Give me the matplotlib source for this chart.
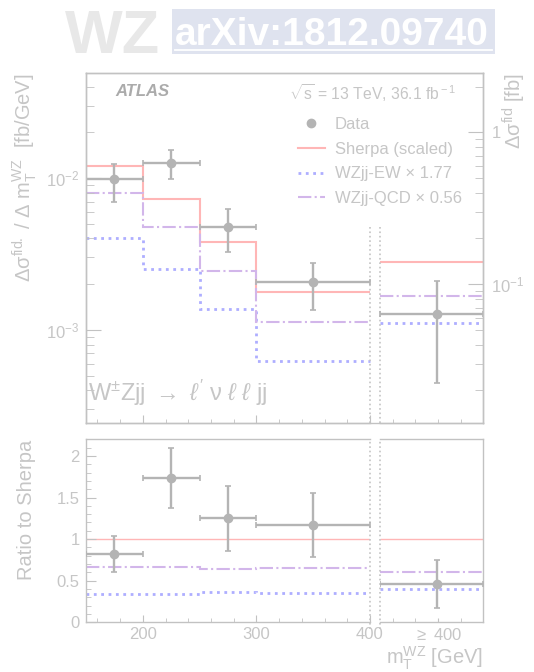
import matplotlib.pyplot as plt
from matplotlib.patches import Rectangle
from matplotlib.lines import Line2D
from matplotlib.ticker import LogLocator, NullFormatter, FixedLocator

plt.rcParams['font.family'] = ['Liberation Sans', 'DejaVu Sans']
plt.rcParams['mathtext.fontset'] = 'custom'
plt.rcParams['mathtext.rm'] = 'Liberation Sans'
plt.rcParams['mathtext.it'] = 'Liberation Sans:italic'
plt.rcParams['mathtext.bf'] = 'Liberation Sans:bold'

# m_T^WZ binning [GeV]; the >= 400 GeV bin sits in its own region right of the gap
bin_edges = [150, 200, 250, 300, 400]
overflow_edges = [408.8, 499.5]
data_x = [175, 225, 275, 350, 459]

# differential cross section [fb/GeV]
data_xs = [9.8e-3, 1.26e-2, 4.77e-3, 2.07e-3, 1.27e-3]
data_xs_up = [1.24e-2, 1.53e-2, 6.25e-3, 2.76e-3, 2.10e-3]
data_xs_down = [6.98e-3, 9.9e-3, 3.27e-3, 1.36e-3, 4.47e-4]
sherpa_xs = [1.20e-2, 7.31e-3, 3.81e-3, 1.77e-3, 2.79e-3]
ew_xs = [4.04e-3, 2.51e-3, 1.37e-3, 6.28e-4, 1.11e-3]
qcd_xs = [8.0e-3, 4.77e-3, 2.44e-3, 1.13e-3, 1.68e-3]

# ratios to Sherpa
data_ratio = [0.82, 1.73, 1.25, 1.17, 0.46]
data_ratio_up = [1.04, 2.10, 1.64, 1.56, 0.75]
data_ratio_down = [0.60, 1.37, 0.86, 0.78, 0.17]
sherpa_ratio = [1.0, 1.0, 1.0, 1.0, 1.0]
ew_ratio = [0.34, 0.34, 0.36, 0.355, 0.40]
qcd_ratio = [0.67, 0.66, 0.645, 0.65, 0.60]

xs_per_bin_scale = 50.0  # right-hand axis: fb instead of fb/GeV

TXT = '#c6c6c6'
SPINE = '#c2c2c2'
GAP = '#c4c4c4'
DATA_C = '#b4b4b4'
RED = '#ffb6b6'
BLUE = '#aeaeff'
PURPLE = '#d2b6ea'

W, H = 534, 672
fig = plt.figure(figsize=(W / 100, H / 100), dpi=100)


def fig_box(x0, y0, x1, y1):
    return [x0 / W, 1 - y1 / H, (x1 - x0) / W, (y1 - y0) / H]


def bin_err(x, edges_main, edges_over):
    lo, hi = [], []
    for i, xc in enumerate(x):
        if i < len(edges_main) - 1:
            lo.append(xc - edges_main[i])
            hi.append(edges_main[i + 1] - xc)
        else:
            lo.append(xc - edges_over[0])
            hi.append(edges_over[1] - xc)
    return [lo, hi]


def draw_hists(ax, values, color, ls, lw):
    ax.stairs(values[:4], bin_edges, color=color, ls=ls, lw=lw, baseline=None)
    ax.stairs(values[4:], overflow_edges, color=color, ls=ls, lw=lw, baseline=None)


def draw_data(ax, y, up, down):
    xerr = bin_err(data_x, bin_edges, overflow_edges)
    yerr = [[v - d for v, d in zip(y, down)], [u - v for v, u in zip(y, up)]]
    ax.errorbar(data_x, y, xerr=xerr, yerr=yerr, fmt='o', color=DATA_C, ms=6,
                lw=1.7, capsize=2.5, capthick=1.2, zorder=5)


def gap_line(ax, x, y0, y1):
    ax.plot([x, x], [y0, y1], transform=ax.get_xaxis_transform(), color=GAP,
            ls=':', lw=1.2, clip_on=False)


def style_axes(ax):
    for s in ax.spines.values():
        s.set_color(SPINE)
        s.set_linewidth(1.0)
    ax.tick_params(which='both', direction='in', colors=SPINE, labelcolor=TXT,
                   labelsize=12)


# ---- upper panel ----
ax = fig.add_axes(fig_box(86, 73, 483, 422.7))
style_axes(ax)
ax.set_yscale('log')
ax.set_xlim(150, 499.5)
ax.set_ylim(2.45e-4, 4.91e-2)

draw_hists(ax, sherpa_xs, RED, '-', 1.5)
draw_hists(ax, ew_xs, BLUE, ':', 2.0)
draw_hists(ax, qcd_xs, PURPLE, '-.', 1.5)
draw_data(ax, data_xs, data_xs_up, data_xs_down)

# broken bottom frame and gap markers
ax.spines['bottom'].set_visible(False)
xt = ax.get_xaxis_transform()
for seg in ([150, 400], overflow_edges):
    ax.plot(seg, [0, 0], transform=xt, color=SPINE, lw=1.0, clip_on=False)
for xg in (400, overflow_edges[0]):
    gap_line(ax, xg, 0, 0.56)

ax.set_xticks([200, 300, 400])
ax.xaxis.set_minor_locator(FixedLocator([160, 180, 220, 240, 260, 280, 320, 340,
                                         360, 380, 420, 440, 460, 480]))
ax.tick_params(axis='x', which='both', top=False, labelbottom=False)
ax.tick_params(axis='x', which='major', length=6)
ax.tick_params(axis='x', which='minor', length=3)
ax.set_yticks([1e-3, 1e-2], ['10$^{-3}$', '10$^{-2}$'])
ax.yaxis.set_minor_locator(LogLocator(subs=range(2, 10)))
ax.yaxis.set_minor_formatter(NullFormatter())
ax.tick_params(axis='y', which='major', length=11, pad=5)
ax.tick_params(axis='y', which='minor', length=5.5)
ax.tick_params(axis='y', which='both', right=False)

ax.set_ylabel('Δσ$^{\\rm fid.}$ / Δ m$_{\\rm T}^{\\rm WZ}$  [fb/GeV]',
              loc='top', color=TXT, fontsize=14.5)
ax.yaxis.set_label_coords(-0.118, 1.0)

# cross section per bin on the right
ax2 = ax.twinx()
ax2.set_yscale('log')
lo, hi = ax.get_ylim()
ax2.set_ylim(lo * xs_per_bin_scale, hi * xs_per_bin_scale)
style_axes(ax2)
ax2.set_yticks([0.1, 1], ['10$^{-1}$', '1'])
ax2.yaxis.set_minor_locator(LogLocator(subs=range(2, 10)))
ax2.yaxis.set_minor_formatter(NullFormatter())
ax2.tick_params(axis='y', which='major', length=11, pad=6)
ax2.tick_params(axis='y', which='minor', length=5.5)
ax2.set_ylabel('Δσ$^{\\rm fid}$ [fb]', loc='top', color=TXT, fontsize=14.5)
ax2.yaxis.set_label_coords(1.046, 1.0)

ax.text(0.073, 0.946, 'ATLAS', transform=ax.transAxes, weight='bold',
        style='italic', fontsize=12, color='#ababab', va='center')
ax.text(0.934, 0.943, '$\\sqrt{\\rm s}$ = 13 TeV, 36.1 fb$^{\\rm -1}$',
        transform=ax.transAxes, fontsize=11.3, color=TXT, ha='right', va='center')
ax.text(0.005, 0.085,
        'W$^{\\pm}$Zjj $\\rightarrow$ $\\ell^{\\prime}$ ν $\\ell$ $\\ell$ jj',
        transform=ax.transAxes, fontsize=17, color=TXT, va='center')

handles = [
    Line2D([], [], marker='o', ls='none', color=DATA_C, ms=6),
    Line2D([], [], color=RED, lw=1.5),
    Line2D([], [], color=BLUE, lw=2.0, ls=':'),
    Line2D([], [], color=PURPLE, lw=1.5, ls='-.'),
]
labels = ['Data', 'Sherpa (scaled)', 'WZjj-EW × 1.77', 'WZjj-QCD × 0.56']
leg = ax.legend(handles, labels, loc='upper left', bbox_to_anchor=(0.534, 0.874),
                frameon=False, fontsize=12, borderpad=0, borderaxespad=0,
                handlelength=1.6, handletextpad=0.6, labelspacing=0.58,
                numpoints=1)
for t in leg.get_texts():
    t.set_color(TXT)

# ---- ratio panel, split at the overflow gap ----
axl = fig.add_axes(fig_box(86, 439.3, 370, 622.3))
axr = fig.add_axes(fig_box(380, 439.3, 483, 622.3))
for a, xl in ((axl, (150, 400)), (axr, tuple(overflow_edges))):
    style_axes(a)
    a.set_xlim(*xl)
    a.set_ylim(0, 2.2)
    draw_hists(a, sherpa_ratio, RED, '-', 1.0)
    draw_hists(a, ew_ratio, BLUE, ':', 2.0)
    draw_hists(a, qcd_ratio, PURPLE, '-.', 1.5)
    draw_data(a, data_ratio, data_ratio_up, data_ratio_down)

axl.spines['right'].set_visible(False)
axr.spines['left'].set_visible(False)
gap_line(axl, 400, -0.035, 1.0)
gap_line(axr, overflow_edges[0], -0.035, 1.0)

axl.set_xticks([200, 300, 400], ['200', '300', '400'])
axl.xaxis.set_minor_locator(FixedLocator([160, 180, 220, 240, 260, 280, 320,
                                          340, 360, 380]))
axl.set_yticks([0, 0.5, 1, 1.5, 2], ['0', '0.5', '1', '1.5', '2'])
axl.yaxis.set_minor_locator(FixedLocator([i / 10 for i in range(23)]))
axl.tick_params(axis='y', which='major', length=7, pad=4.5)
axl.tick_params(axis='y', which='minor', length=3.5)
axl.tick_params(axis='y', which='both', right=False)
axl.tick_params(axis='x', which='major', length=5, pad=3.5)
axl.tick_params(axis='x', which='minor', length=3)
axl.tick_params(axis='x', which='both', top=False)
axl.set_ylabel('Ratio to Sherpa', loc='top', color=TXT, fontsize=14.5)
axl.yaxis.set_label_coords(-0.176, 1.0)

axr.set_xticks([460], ['$\\geq$ 400'])
axr.xaxis.set_minor_locator(FixedLocator([420, 440, 480]))
axr.tick_params(axis='x', which='both', length=3, pad=3.5, top=False)
axr.tick_params(axis='y', which='both', left=False, right=False, labelleft=False)
axr.set_xlabel('m$_{\\rm T}^{\\rm WZ}$ [GeV]', loc='right', color=TXT, fontsize=14.5)
axr.xaxis.set_label_coords(1.0, -0.12)

# ---- header ----
fig.text(65 / W, 1 - 53 / H, 'WZ', fontsize=44, weight='bold', color='#e8e8e8',
         va='baseline', ha='left')
fig.patches.append(Rectangle((172 / W, 1 - 54 / H), 323 / W, 45 / H,
                             transform=fig.transFigure, color='#dfe3ef', lw=0))
fig.text(175 / W, 1 - 45 / H, 'arXiv:1812.09740', fontsize=28, weight='bold',
         color='white', va='baseline', ha='left')
fig.lines.append(Line2D([175 / W, 492 / W], [1 - 50 / H, 1 - 50 / H],
                        transform=fig.transFigure, color='white', lw=1.3))

fig.savefig('out.png', dpi=100)
